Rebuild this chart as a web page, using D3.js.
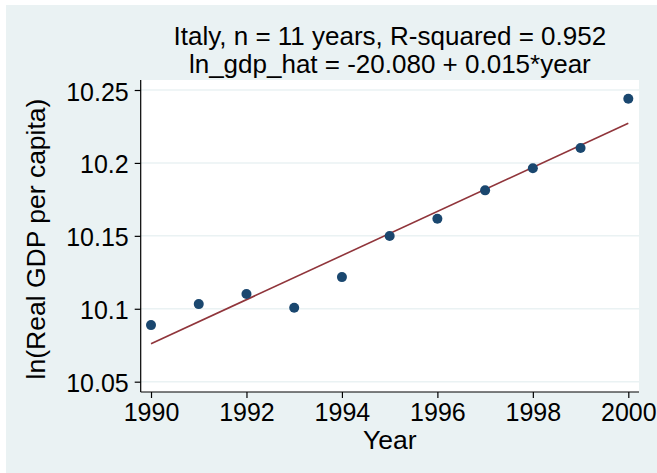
<!DOCTYPE html>
<html>
<head>
<meta charset="utf-8">
<script src="https://cdn.jsdelivr.net/npm/d3@7"></script>
<style>
  html, body { margin: 0; padding: 0; background: #ffffff; }
  svg { display: block; }
  text { font-family: "Liberation Sans", Arial, sans-serif; fill: #000; }
</style>
</head>
<body>
<svg id="chart" width="657" height="473"></svg>
<script>
// Italy: log real GDP per capita by year
const years = [1990, 1991, 1992, 1993, 1994, 1995, 1996, 1997, 1998, 1999, 2000];
const lnGdp = [10.0888, 10.1032, 10.1101, 10.1007, 10.1217, 10.1499, 10.1617, 10.1812, 10.1963, 10.2102, 10.2440];
const yTicks = [10.05, 10.1, 10.15, 10.2, 10.25];
const xTicks = [1990, 1992, 1994, 1996, 1998, 2000];
const titleLines = ["Italy, n = 11 years, R-squared = 0.952", "ln_gdp_hat = -20.080 + 0.015*year"];

const W = 657, H = 473;
const plot = { left: 140.7, right: 639, top: 80, bottom: 392 };
const FONT = "Liberation Sans, Arial, sans-serif";

const svg = d3.select("#chart");

// outer background panel
svg.append("rect").attr("x", 6).attr("y", 5).attr("width", W - 6).attr("height", H - 5)
  .attr("fill", "#eaf2f3");
svg.append("rect").attr("x", plot.left).attr("y", plot.top)
  .attr("width", plot.right - plot.left).attr("height", plot.bottom - plot.top)
  .attr("fill", "#ffffff");

const x = d3.scaleLinear().domain([1989.784, 2000.224]).range([plot.left, plot.right]);
const y = d3.scaleLinear().domain([10.04293, 10.25686]).range([plot.bottom, plot.top]);

// horizontal grid
svg.append("g").selectAll("line").data(yTicks).join("line")
  .attr("x1", plot.left).attr("x2", plot.right)
  .attr("y1", d => y(d)).attr("y2", d => y(d))
  .attr("stroke", "#eaf2f3").attr("stroke-width", 1.5);

// least-squares fit of lnGdp on year
const n = years.length;
const mx = d3.mean(years), my = d3.mean(lnGdp);
let sxy = 0, sxx = 0;
for (let i = 0; i < n; i++) { sxy += (years[i] - mx) * (lnGdp[i] - my); sxx += (years[i] - mx) ** 2; }
const slope = sxy / sxx, intercept = my - slope * mx;
const fitEnds = [d3.min(years), d3.max(years)].map(t => [t, intercept + slope * t]);

svg.append("path").datum(fitEnds)
  .attr("d", d3.line().x(d => x(d[0])).y(d => y(d[1])))
  .attr("fill", "none").attr("stroke", "#90353b").attr("stroke-width", 1.6);

svg.append("g").selectAll("circle").data(years.map((t, i) => [t, lnGdp[i]])).join("circle")
  .attr("cx", d => x(d[0])).attr("cy", d => y(d[1])).attr("r", 5)
  .attr("fill", "#1a476f");

// axes
const yAxis = d3.axisLeft(y).tickValues(yTicks).tickSize(6).tickPadding(6)
  .tickFormat(d => String(+d.toFixed(2)));
const gy = svg.append("g").attr("transform", `translate(${plot.left},0)`).call(yAxis);
gy.select(".domain").attr("d", `M0,${plot.top}V${plot.bottom}`).attr("stroke", "#000").attr("stroke-width", 1.2);
gy.selectAll(".tick line").attr("stroke", "#000").attr("stroke-width", 1.2);
gy.selectAll(".tick text").attr("font-size", 25).attr("font-family", FONT)
  .attr("dy", "0.4em").attr("fill", "#000");

const xAxis = d3.axisBottom(x).tickValues(xTicks).tickSize(6).tickPadding(5).tickFormat(d3.format("d"));
const gx = svg.append("g").attr("transform", `translate(0,${plot.bottom})`).call(xAxis);
gx.select(".domain").attr("d", `M${plot.left},0H${plot.right}`).attr("stroke", "#000").attr("stroke-width", 1.2);
gx.selectAll(".tick line").attr("stroke", "#000").attr("stroke-width", 1.2);
gx.selectAll(".tick text").attr("font-size", 25).attr("font-family", FONT)
  .attr("fill", "#000");

// axis titles
svg.append("text").attr("x", (plot.left + plot.right) / 2).attr("y", 449)
  .attr("text-anchor", "middle").attr("font-size", 26.5).text("Year");
svg.append("text")
  .attr("transform", `translate(45,${(plot.top + plot.bottom) / 2 + 3}) rotate(-90)`)
  .attr("text-anchor", "middle").attr("font-size", 26.5).text("ln(Real GDP per capita)");

// title
svg.append("g").selectAll("text").data(titleLines).join("text")
  .attr("x", (plot.left + plot.right) / 2).attr("y", (d, i) => 45 + i * 28)
  .attr("text-anchor", "middle").attr("font-size", 26).text(d => d);
</script>
</body>
</html>
